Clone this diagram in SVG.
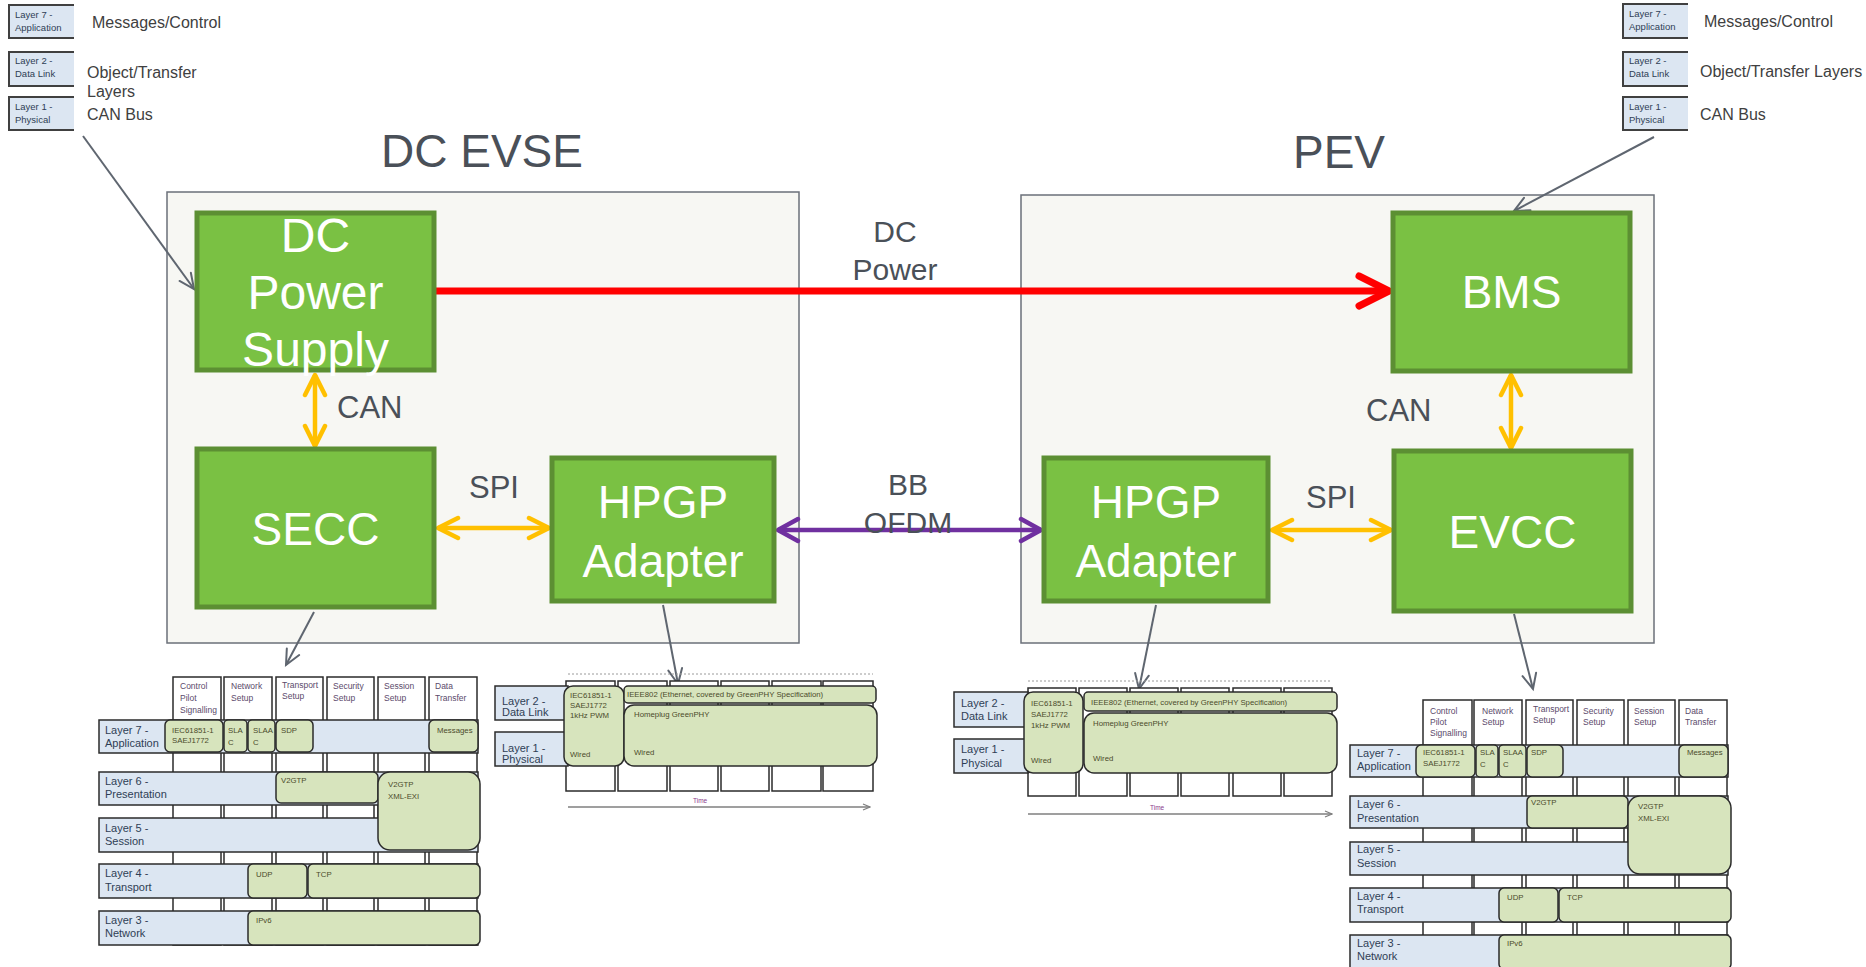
<svg xmlns="http://www.w3.org/2000/svg" width="1866" height="967" viewBox="0 0 1866 967">
<style>
.cont{fill:#f7f7f3;stroke:#6b7079;stroke-width:1.5}
.grn{fill:#7ac143;stroke:#5c8f33;stroke-width:5}
.big{font-family:"Liberation Sans",Arial,sans-serif;fill:#ffffff;text-anchor:middle}
.lbl{font-family:"Liberation Sans",Arial,sans-serif;fill:#4a5058}
.leg{font-family:"Liberation Sans",Arial,sans-serif;fill:#404040;font-size:16px}
.row{fill:#dce6f2;stroke:#2b2b2b;stroke-width:1.5}
.gb{fill:#d7e4bd;stroke:#2b2b2b;stroke-width:1.5}
.col{fill:#ffffff;stroke:#2b2b2b;stroke-width:1.5}
.rt{font-family:"Liberation Sans",Arial,sans-serif;font-size:11px;fill:#2f3e55}
.lt{font-family:"Liberation Sans",Arial,sans-serif;font-size:9.5px;fill:#2f3e55}
.gt{font-family:"Liberation Sans",Arial,sans-serif;font-size:7.8px;fill:#4b4b2b}
.ht{font-family:"Liberation Sans",Arial,sans-serif;font-size:8.5px;fill:#5b4a6b}
.gline{fill:none;stroke:#5f6670;stroke-width:2}
.tline{fill:none;stroke:#7f7f7f;stroke-width:1.5}
.tick{stroke:#2b2b2b;stroke-width:1.5}
</style>
<defs>
<marker id="mY" viewBox="0 0 26 26" refX="23" refY="13" markerWidth="26" markerHeight="26" markerUnits="userSpaceOnUse" orient="auto-start-reverse">
<path d="M3,3 L23,13 L3,23" fill="none" stroke="#ffc000" stroke-width="4.5" stroke-linecap="round" stroke-linejoin="round"/>
</marker>
<marker id="mP" viewBox="0 0 26 28" refX="23" refY="14" markerWidth="26" markerHeight="28" markerUnits="userSpaceOnUse" orient="auto-start-reverse">
<path d="M3,3 L23,14 L3,25" fill="none" stroke="#7030a0" stroke-width="4.5" stroke-linecap="round" stroke-linejoin="round"/>
</marker>
<marker id="mR" viewBox="0 0 40 40" refX="35" refY="20" markerWidth="40" markerHeight="40" markerUnits="userSpaceOnUse" orient="auto">
<path d="M5,5 L35,20 L5,35" fill="none" stroke="#ff0000" stroke-width="7" stroke-linecap="round" stroke-linejoin="round"/>
</marker>
<marker id="mG" viewBox="0 0 20 20" refX="17" refY="10" markerWidth="20" markerHeight="20" markerUnits="userSpaceOnUse" orient="auto">
<path d="M2,3 L17,10 L2,17" fill="none" stroke="#5f6670" stroke-width="2" stroke-linecap="round"/>
</marker>
<marker id="mT" viewBox="0 0 10 10" refX="9" refY="5" markerWidth="10" markerHeight="10" markerUnits="userSpaceOnUse" orient="auto">
<path d="M2,2 L9,5 L2,8" fill="none" stroke="#7f7f7f" stroke-width="1.2"/>
</marker>
</defs>
<rect width="1866" height="967" fill="#ffffff"/>

<!-- legends -->
<g id="legend-left">
<rect x="9" y="5" width="65" height="33" fill="#dce6f2"/><path d="M74,5 H9 V38 H74" fill="none" stroke="#404040" stroke-width="2"/>
<text class="lt" x="15" y="18">Layer 7 -</text><text class="lt" x="15" y="31">Application</text>
<rect x="9" y="52" width="65" height="34" fill="#dce6f2"/><path d="M74,52 H9 V86 H74" fill="none" stroke="#404040" stroke-width="2"/>
<text class="lt" x="15" y="64">Layer 2 -</text><text class="lt" x="15" y="77">Data Link</text>
<rect x="9" y="97" width="65" height="33" fill="#dce6f2"/><path d="M74,97 H9 V130 H74" fill="none" stroke="#404040" stroke-width="2"/>
<text class="lt" x="15" y="110">Layer 1 -</text><text class="lt" x="15" y="123">Physical</text>
<text class="leg" x="92" y="28">Messages/Control</text>
<text class="leg" x="87" y="78">Object/Transfer</text>
<text class="leg" x="87" y="97">Layers</text>
<text class="leg" x="87" y="120">CAN Bus</text>
</g>
<g id="legend-right">
<rect x="1623" y="4" width="65" height="34" fill="#dce6f2"/><path d="M1688,4 H1623 V38 H1688" fill="none" stroke="#404040" stroke-width="2"/>
<text class="lt" x="1629" y="17">Layer 7 -</text><text class="lt" x="1629" y="30">Application</text>
<rect x="1623" y="52" width="65" height="34" fill="#dce6f2"/><path d="M1688,52 H1623 V86 H1688" fill="none" stroke="#404040" stroke-width="2"/>
<text class="lt" x="1629" y="64">Layer 2 -</text><text class="lt" x="1629" y="77">Data Link</text>
<rect x="1623" y="97" width="65" height="33" fill="#dce6f2"/><path d="M1688,97 H1623 V130 H1688" fill="none" stroke="#404040" stroke-width="2"/>
<text class="lt" x="1629" y="110">Layer 1 -</text><text class="lt" x="1629" y="123">Physical</text>
<text class="leg" x="1704" y="27">Messages/Control</text>
<text class="leg" x="1700" y="77">Object/Transfer Layers</text>
<text class="leg" x="1700" y="120">CAN Bus</text>
</g>

<!-- containers -->
<g id="dc-evse">
<rect class="cont" x="167" y="192" width="632" height="451"/>
<text class="lbl" x="482" y="167" font-size="46" text-anchor="middle">DC EVSE</text>
</g>
<g id="pev">
<rect class="cont" x="1021" y="195" width="633" height="448"/>
<text class="lbl" x="1339" y="168" font-size="46" text-anchor="middle">PEV</text>
</g>

<!-- connectors -->
<g id="connectors">
<line x1="436" y1="291" x2="1389" y2="291" stroke="#ff0000" stroke-width="7" marker-end="url(#mR)"/>
<line x1="315" y1="375" x2="315" y2="446" stroke="#ffc000" stroke-width="4.5" marker-start="url(#mY)" marker-end="url(#mY)"/>
<line x1="438" y1="528" x2="549" y2="528" stroke="#ffc000" stroke-width="4.5" marker-start="url(#mY)" marker-end="url(#mY)"/>
<line x1="778" y1="530" x2="1041" y2="530" stroke="#7030a0" stroke-width="4.5" marker-start="url(#mP)" marker-end="url(#mP)"/>
<line x1="1511" y1="375" x2="1511" y2="448" stroke="#ffc000" stroke-width="4.5" marker-start="url(#mY)" marker-end="url(#mY)"/>
<line x1="1272" y1="530" x2="1391" y2="530" stroke="#ffc000" stroke-width="4.5" marker-start="url(#mY)" marker-end="url(#mY)"/>
<line class="gline" x1="83" y1="136" x2="194" y2="289" marker-end="url(#mG)"/>
<line class="gline" x1="1654" y1="137" x2="1514" y2="211" marker-end="url(#mG)"/>
<line class="gline" x1="314" y1="612" x2="286" y2="665" marker-end="url(#mG)"/>
<line class="gline" x1="663" y1="605" x2="678" y2="684" marker-end="url(#mG)"/>
<line class="gline" x1="1156" y1="605" x2="1139" y2="689" marker-end="url(#mG)"/>
<line class="gline" x1="1514" y1="614" x2="1533" y2="689" marker-end="url(#mG)"/>
<text class="lbl" x="895" y="242" font-size="30" text-anchor="middle">DC</text>
<text class="lbl" x="895" y="280" font-size="30" text-anchor="middle">Power</text>
<text class="lbl" x="908" y="495" font-size="30" text-anchor="middle">BB</text>
<text class="lbl" x="908" y="533" font-size="30" text-anchor="middle">OFDM</text>
<text class="lbl" x="337" y="418" font-size="31">CAN</text>
<text class="lbl" x="469" y="498" font-size="31">SPI</text>
<text class="lbl" x="1366" y="421" font-size="31">CAN</text>
<text class="lbl" x="1306" y="508" font-size="31">SPI</text>
</g>

<!-- nodes -->
<g id="dc-power-supply">
<rect class="grn" x="197" y="213" width="237" height="157"/>
<text class="big" x="315.5" y="252" font-size="48">DC</text>
<text class="big" x="315.5" y="309" font-size="48">Power</text>
<text class="big" x="315.5" y="366" font-size="48">Supply</text>
</g>
<g id="secc">
<rect class="grn" x="197" y="449" width="237" height="158"/>
<text class="big" x="315.5" y="545" font-size="46">SECC</text>
</g>
<g id="hpgp-evse">
<rect class="grn" x="552" y="458" width="222" height="143"/>
<text class="big" x="663" y="518" font-size="46">HPGP</text>
<text class="big" x="663" y="577" font-size="46">Adapter</text>
</g>
<g id="bms">
<rect class="grn" x="1393" y="213" width="237" height="158"/>
<text class="big" x="1511.5" y="308" font-size="46">BMS</text>
</g>
<g id="evcc">
<rect class="grn" x="1394" y="451" width="237" height="160"/>
<text class="big" x="1512.5" y="548" font-size="46">EVCC</text>
</g>
<g id="hpgp-pev">
<rect class="grn" x="1044" y="458" width="224" height="143"/>
<text class="big" x="1156" y="518" font-size="46">HPGP</text>
<text class="big" x="1156" y="577" font-size="46">Adapter</text>
</g>

<!-- left protocol stack -->
<g id="stack-evse">
<rect class="col" x="173" y="677" width="48" height="268"/>
<rect class="col" x="224" y="677" width="48" height="268"/>
<rect class="col" x="276" y="677" width="47" height="268"/>
<rect class="col" x="327" y="677" width="47" height="268"/>
<rect class="col" x="378" y="677" width="47" height="268"/>
<rect class="col" x="429" y="677" width="48" height="268"/>
<text class="ht" x="180" y="689">Control</text><text class="ht" x="180" y="701">Pilot</text><text class="ht" x="180" y="713">Signalling</text>
<text class="ht" x="231" y="689">Network</text><text class="ht" x="231" y="701">Setup</text>
<text class="ht" x="282" y="688">Transport</text><text class="ht" x="282" y="699">Setup</text>
<text class="ht" x="333" y="689">Security</text><text class="ht" x="333" y="701">Setup</text>
<text class="ht" x="384" y="689">Session</text><text class="ht" x="384" y="701">Setup</text>
<text class="ht" x="435" y="689">Data</text><text class="ht" x="435" y="701">Transfer</text>
<rect class="row" x="99" y="720" width="379" height="33"/>
<text class="rt" x="105" y="734">Layer 7 -</text><text class="rt" x="105" y="747">Application</text>
<rect class="row" x="99" y="772" width="379" height="33"/>
<text class="rt" x="105" y="785">Layer 6 -</text><text class="rt" x="105" y="798">Presentation</text>
<rect class="row" x="99" y="818" width="379" height="34"/>
<text class="rt" x="105" y="832">Layer 5 -</text><text class="rt" x="105" y="845">Session</text>
<rect class="row" x="99" y="864" width="379" height="34"/>
<text class="rt" x="105" y="877">Layer 4 -</text><text class="rt" x="105" y="891">Transport</text>
<rect class="row" x="99" y="911" width="379" height="34"/>
<text class="rt" x="105" y="924">Layer 3 -</text><text class="rt" x="105" y="937">Network</text>
<rect class="gb" x="165" y="720" width="58" height="32" rx="5"/>
<text class="gt" x="172" y="733">IEC61851-1</text><text class="gt" x="172" y="743">SAEJ1772</text>
<rect class="gb" x="224" y="720" width="23" height="32" rx="4"/>
<text class="gt" x="228" y="733">SLA</text><text class="gt" x="228" y="745">C</text>
<rect class="gb" x="248" y="720" width="27" height="32" rx="4"/>
<text class="gt" x="253" y="733">SLAA</text><text class="gt" x="253" y="745">C</text>
<rect class="gb" x="276" y="720" width="37" height="32" rx="5"/>
<text class="gt" x="281" y="733">SDP</text>
<rect class="gb" x="429" y="720" width="49" height="32" rx="5"/>
<text class="gt" x="437" y="733" font-size="7">Messages</text>
<rect class="gb" x="276" y="772" width="102" height="31" rx="5"/>
<text class="gt" x="281" y="783">V2GTP</text>
<rect class="gb" x="378" y="772" width="102" height="78" rx="12"/>
<text class="gt" x="388" y="787">V2GTP</text><text class="gt" x="388" y="799">XML-EXI</text>
<rect class="gb" x="248" y="864" width="59" height="34" rx="5"/>
<text class="gt" x="256" y="877">UDP</text>
<rect class="gb" x="308" y="864" width="172" height="34" rx="5"/>
<text class="gt" x="316" y="877">TCP</text>
<rect class="gb" x="248" y="911" width="232" height="34" rx="5"/>
<text class="gt" x="256" y="923">IPv6</text>
</g>

<!-- middle left stack -->
<g id="phy-evse">
<line x1="568" y1="674" x2="873" y2="674" stroke="#9a9a9a" stroke-width="1" stroke-dasharray="2,2"/>
<rect class="col" x="566" y="681" width="49" height="110"/>
<rect class="col" x="618" y="681" width="49" height="110"/>
<rect class="col" x="670" y="681" width="48" height="110"/>
<rect class="col" x="721" y="681" width="48" height="110"/>
<rect class="col" x="772" y="681" width="49" height="110"/>
<rect class="col" x="823" y="681" width="50" height="110"/>
<rect class="row" x="495" y="686" width="73" height="34"/>
<text class="rt" x="502" y="705" font-size="10.5">Layer 2 -</text><text class="rt" x="502" y="716" font-size="10.5">Data Link</text>
<rect class="row" x="495" y="732" width="73" height="34"/>
<text class="rt" x="502" y="752" font-size="10.5">Layer 1 -</text><text class="rt" x="502" y="763" font-size="10.5">Physical</text>
<rect class="gb" x="564" y="686" width="60" height="80" rx="9"/>
<text class="gt" x="570" y="698">IEC61851-1</text><text class="gt" x="570" y="708">SAEJ1772</text><text class="gt" x="570" y="718" font-size="7">1kHz PWM</text><text class="gt" x="570" y="757">Wired</text>
<rect class="gb" x="624" y="686" width="252" height="17" rx="4"/>
<text class="gt" x="627" y="697">IEEE802 (Ethernet, covered by GreenPHY Specification)</text>
<rect class="gb" x="624" y="705" width="253" height="61" rx="10"/>
<text class="gt" x="634" y="717">Homeplug GreenPHY</text><text class="gt" x="634" y="755">Wired</text>
<line class="tline" x1="568" y1="807" x2="870" y2="807" marker-end="url(#mT)"/>
<text x="693" y="803" font-family="Liberation Sans, Arial, sans-serif" font-size="6.5" fill="#8a3a8a">Time</text>
</g>

<!-- middle right stack -->
<g id="phy-pev">
<line x1="1028" y1="681" x2="1332" y2="681" stroke="#9a9a9a" stroke-width="1" stroke-dasharray="2,2"/>
<rect class="col" x="1028" y="688" width="48" height="108"/>
<rect class="col" x="1079" y="688" width="48" height="108"/>
<rect class="col" x="1130" y="688" width="48" height="108"/>
<rect class="col" x="1181" y="688" width="48" height="108"/>
<rect class="col" x="1233" y="688" width="48" height="108"/>
<rect class="col" x="1284" y="688" width="48" height="108"/>
<rect class="row" x="954" y="692" width="74" height="35"/>
<text class="rt" x="961" y="707">Layer 2 -</text><text class="rt" x="961" y="720">Data Link</text>
<rect class="row" x="954" y="739" width="74" height="34"/>
<text class="rt" x="961" y="753">Layer 1 -</text><text class="rt" x="961" y="767">Physical</text>
<rect class="gb" x="1024" y="692" width="59" height="81" rx="9"/>
<text class="gt" x="1031" y="706">IEC61851-1</text><text class="gt" x="1031" y="717">SAEJ1772</text><text class="gt" x="1031" y="728" font-size="7">1kHz PWM</text><text class="gt" x="1031" y="763">Wired</text>
<rect class="gb" x="1084" y="692" width="253" height="19" rx="4"/>
<text class="gt" x="1091" y="705">IEEE802 (Ethernet, covered by GreenPHY Specification)</text>
<rect class="gb" x="1084" y="713" width="253" height="60" rx="10"/>
<text class="gt" x="1093" y="726">Homeplug GreenPHY</text><text class="gt" x="1093" y="761">Wired</text>
<line class="tline" x1="1028" y1="814" x2="1332" y2="814" marker-end="url(#mT)"/>
<text x="1150" y="810" font-family="Liberation Sans, Arial, sans-serif" font-size="6.5" fill="#8a3a8a">Time</text>
</g>

<!-- right protocol stack -->
<g id="stack-pev">
<rect class="col" x="1423" y="700" width="49" height="275"/>
<rect class="col" x="1474" y="700" width="48" height="275"/>
<rect class="col" x="1526" y="700" width="47" height="275"/>
<rect class="col" x="1577" y="700" width="47" height="275"/>
<rect class="col" x="1628" y="700" width="47" height="275"/>
<rect class="col" x="1679" y="700" width="48" height="275"/>
<text class="ht" x="1430" y="714">Control</text><text class="ht" x="1430" y="725">Pilot</text><text class="ht" x="1430" y="736">Signalling</text>
<text class="ht" x="1482" y="714">Network</text><text class="ht" x="1482" y="725">Setup</text>
<text class="ht" x="1533" y="712">Transport</text><text class="ht" x="1533" y="723">Setup</text>
<text class="ht" x="1583" y="714">Security</text><text class="ht" x="1583" y="725">Setup</text>
<text class="ht" x="1634" y="714">Session</text><text class="ht" x="1634" y="725">Setup</text>
<text class="ht" x="1685" y="714">Data</text><text class="ht" x="1685" y="725">Transfer</text>
<rect class="row" x="1350" y="745" width="378" height="32"/>
<text class="rt" x="1357" y="757">Layer 7 -</text><text class="rt" x="1357" y="770">Application</text>
<rect class="row" x="1350" y="796" width="378" height="32"/>
<text class="rt" x="1357" y="808">Layer 6 -</text><text class="rt" x="1357" y="822">Presentation</text>
<rect class="row" x="1350" y="842" width="378" height="33"/>
<text class="rt" x="1357" y="853">Layer 5 -</text><text class="rt" x="1357" y="867">Session</text>
<rect class="row" x="1350" y="888" width="378" height="34"/>
<text class="rt" x="1357" y="900">Layer 4 -</text><text class="rt" x="1357" y="913">Transport</text>
<rect class="row" x="1350" y="935" width="378" height="34"/>
<text class="rt" x="1357" y="947">Layer 3 -</text><text class="rt" x="1357" y="960">Network</text>
<rect class="gb" x="1416" y="745" width="59" height="32" rx="5"/>
<text class="gt" x="1423" y="755">IEC61851-1</text><text class="gt" x="1423" y="766">SAEJ1772</text>
<rect class="gb" x="1476" y="745" width="22" height="32" rx="4"/>
<text class="gt" x="1480" y="755">SLA</text><text class="gt" x="1480" y="767">C</text>
<rect class="gb" x="1499" y="745" width="27" height="32" rx="4"/>
<text class="gt" x="1503" y="755">SLAA</text><text class="gt" x="1503" y="767">C</text>
<rect class="gb" x="1527" y="745" width="36" height="32" rx="5"/>
<text class="gt" x="1531" y="755">SDP</text>
<rect class="gb" x="1679" y="745" width="49" height="32" rx="5"/>
<text class="gt" x="1687" y="755" font-size="7">Messages</text>
<rect class="gb" x="1527" y="796" width="101" height="32" rx="5"/>
<text class="gt" x="1531" y="805">V2GTP</text>
<rect class="gb" x="1628" y="796" width="103" height="78" rx="12"/>
<text class="gt" x="1638" y="809">V2GTP</text><text class="gt" x="1638" y="821">XML-EXI</text>
<rect class="gb" x="1499" y="888" width="59" height="34" rx="5"/>
<text class="gt" x="1507" y="900">UDP</text>
<rect class="gb" x="1559" y="888" width="172" height="34" rx="5"/>
<text class="gt" x="1567" y="900">TCP</text>
<rect class="gb" x="1499" y="935" width="232" height="34" rx="5"/>
<text class="gt" x="1507" y="946">IPv6</text>
</g>
</svg>
